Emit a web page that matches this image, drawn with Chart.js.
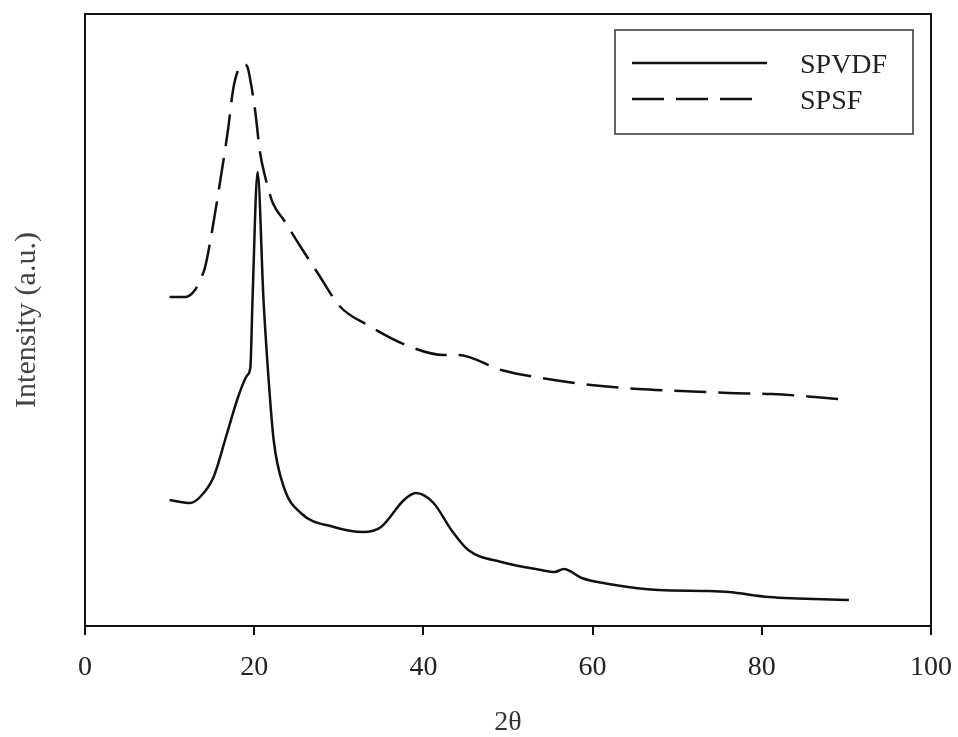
<!DOCTYPE html>
<html lang="en">
<head>
<meta charset="UTF-8">
<title>SPVDF / SPSF XRD</title>
<script src="https://cdn.jsdelivr.net/npm/chart.js"></script>
<style>
  html, body { margin: 0; padding: 0; background: #fff; }
  #wrap { width: 958px; height: 737px; }
</style>
</head>
<body>
<div id="wrap"><canvas id="xrdChart" width="958" height="737"></canvas></div>

<script>
// values (2theta, intensity in arbitrary units)
const spvdfX = [10, 12.4, 13.6, 15.2, 16.8, 18.1, 19.2, 19.55, 19.8, 20.4, 21.1, 21.6, 22.3, 23.5, 25.5, 29.4, 32.9, 35.0, 37.7, 39.1, 41.2, 43.3, 45.3, 49.2, 53.9, 55.5, 56.6, 58.7, 61.9, 67.8, 73.7, 76.1, 80.8, 90.3];
const spvdfY = [126, 123, 129, 149, 193, 229, 251, 259, 326, 454, 326, 259, 186, 139, 113, 99, 94, 99, 126, 133, 123, 96, 76, 64, 56, 54, 57, 48, 42, 36, 35, 34, 29, 26];

const spsfX = [10, 11.9, 13.0, 13.6, 14.2, 15.1, 16.0, 16.9, 17.5, 18.1, 18.7, 19.2, 19.6, 20.1, 20.7, 21.3, 22.2, 23.5, 25.5, 27.5, 30.2, 33.4, 38.5, 42.4, 44.1, 49.2, 53.9, 59.8, 65.4, 70.5, 76.1, 81.2, 86.3, 90.3];
const spsfY = [329, 329, 336, 346, 359, 399, 446, 496, 536, 556, 562, 559, 543, 516, 473, 449, 423, 406, 379, 353, 319, 301, 279, 271, 271, 256, 248, 241, 237, 235, 233, 232, 229, 226];

const seriesNames = ["SPVDF", "SPSF"];
const xTicks = [0, 20, 40, 60, 80, 100];

const serif = "'Liberation Serif', 'Times New Roman', serif";

function toPoints(xs, ys) {
  return xs.map((x, i) => ({ x: x, y: ys[i] }));
}

// frame round the plot area + legend box in the top right corner
const framePlugin = {
  id: "frame",
  afterDatasetsDraw(chart) {
    const { ctx, chartArea: a } = chart;
    ctx.save();
    ctx.strokeStyle = "#111";
    ctx.lineWidth = 2;
    ctx.strokeRect(a.left, a.top, a.right - a.left, a.bottom - a.top);

    // legend
    ctx.lineWidth = 1.5;
    ctx.strokeStyle = "#333";
    ctx.strokeRect(615, 30, 298, 104);
    const rows = [63, 99];
    chart.data.datasets.forEach((ds, i) => {
      ctx.beginPath();
      ctx.lineWidth = 2.5;
      ctx.strokeStyle = ds.borderColor;
      ctx.setLineDash(ds.borderDash || []);
      ctx.moveTo(632, rows[i]);
      ctx.lineTo(i === 0 ? 767 : 752, rows[i]);
      ctx.stroke();
      ctx.setLineDash([]);
      ctx.fillStyle = "#222";
      ctx.font = "28px " + serif;
      ctx.textBaseline = "middle";
      ctx.fillText(ds.label, 800, rows[i] + 3);
    });
    ctx.restore();
  }
};

const ctx = document.getElementById("xrdChart").getContext("2d");

new Chart(ctx, {
  type: "line",
  data: {
    datasets: [
      {
        label: seriesNames[0],
        data: toPoints(spvdfX, spvdfY),
        borderColor: "#111",
        borderWidth: 2.5,
        pointRadius: 0,
        fill: false,
        cubicInterpolationMode: "monotone"
      },
      {
        label: seriesNames[1],
        data: toPoints(spsfX, spsfY),
        borderColor: "#111",
        borderWidth: 2.5,
        borderDash: [32, 12],
        pointRadius: 0,
        fill: false,
        cubicInterpolationMode: "monotone"
      }
    ]
  },
  options: {
    responsive: false,
    animation: false,
    layout: { padding: { top: 14, right: 27, left: 0, bottom: 0 } },
    plugins: {
      legend: { display: false },
      tooltip: { enabled: false }
    },
    scales: {
      x: {
        type: "linear",
        min: 0,
        max: 100,
        afterBuildTicks(scale) {
          scale.ticks = xTicks.map(v => ({ value: v }));
        },
        afterFit(scale) {
          scale.height = 111;
          scale.paddingLeft = 0;
          scale.paddingRight = 0;
        },
        grid: { drawOnChartArea: false, drawTicks: true, tickLength: 9, color: "#111", lineWidth: 2 },
        border: { display: true, color: "#111", width: 2 },
        ticks: { color: "#222", padding: 16, maxRotation: 0, font: { family: serif, size: 28 } },
        title: {
          display: true,
          text: "2θ",
          color: "#333",
          padding: { top: 0, bottom: 0 },
          font: { family: serif, size: 28, lineHeight: 1 }
        }
      },
      y: {
        type: "linear",
        min: 0,
        max: 612,
        afterFit(scale) { scale.width = 85; },
        grid: { display: false },
        border: { display: true, color: "#111", width: 2 },
        ticks: { display: false },
        title: {
          display: true,
          text: "Intensity (a.u.)",
          color: "#444",
          padding: { top: 12, bottom: 0 },
          font: { family: serif, size: 30, lineHeight: 1 }
        }
      }
    }
  },
  plugins: [framePlugin]
});
</script>
</body>
</html>
